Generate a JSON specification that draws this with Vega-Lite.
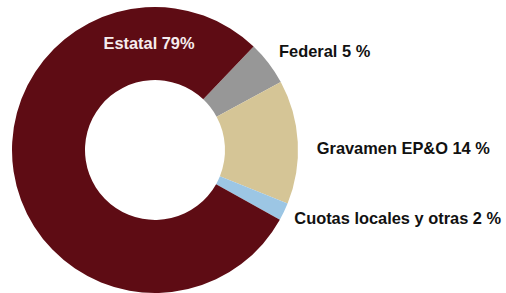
{
  "$schema": "https://vega.github.io/schema/vega-lite/v6.json",
  "width": 310,
  "height": 300,
  "autosize": {"type": "none"},
  "padding": {"left": 0, "top": 0, "right": 196, "bottom": 0},
  "background": "white",
  "view": {"stroke": null},
  "data": {
    "values": [
      {"orden": 1, "nombre": "Federal", "valor": 5, "etiqueta": "Federal 5 %"},
      {"orden": 2, "nombre": "Gravamen", "valor": 14, "etiqueta": "Gravamen EP&O 14 %"},
      {"orden": 3, "nombre": "Cuotas", "valor": 2, "etiqueta": "Cuotas locales y otras 2 %"},
      {"orden": 4, "nombre": "Estatal", "valor": 79, "etiqueta": "Estatal 79%"}
    ]
  },
  "encoding": {
    "theta": {"field": "valor", "type": "quantitative", "stack": true, "scale": {"range": [0.761, 7.044]}},
    "order": {"field": "orden", "type": "ordinal"}
  },
  "layer": [
    {
      "mark": {"type": "arc", "outerRadius": 143, "innerRadius": 70},
      "encoding": {
        "color": {
          "field": "nombre",
          "type": "nominal",
          "scale": {"domain": ["Federal", "Gravamen", "Cuotas", "Estatal"], "range": ["#979797", "#d5c596", "#9cc6e4", "#5e0c14"]},
          "legend": null
        }
      }
    },
    {
      "mark": {"type": "text", "radius": 160, "align": "left", "baseline": "middle", "font": "Liberation Sans", "fontWeight": "bold", "fontSize": 16.4, "dx": -3, "dy": -1, "color": "#111111"},
      "encoding": {"text": {"condition": {"test": "datum.nombre === 'Federal'", "field": "etiqueta"}, "value": ""}}
    },
    {
      "mark": {"type": "text", "radius": 160, "align": "left", "baseline": "middle", "font": "Liberation Sans", "fontWeight": "bold", "fontSize": 16.4, "dx": 2, "dy": 8, "color": "#111111"},
      "encoding": {"text": {"condition": {"test": "datum.nombre === 'Gravamen'", "field": "etiqueta"}, "value": ""}}
    },
    {
      "mark": {"type": "text", "radius": 160, "align": "left", "baseline": "middle", "font": "Liberation Sans", "fontWeight": "bold", "fontSize": 16.4, "dx": -5, "dy": 0, "color": "#111111"},
      "encoding": {"text": {"condition": {"test": "datum.nombre === 'Cuotas'", "field": "etiqueta"}, "value": ""}}
    },
    {
      "mark": {"type": "text", "radius": 0, "align": "center", "baseline": "middle", "font": "Liberation Sans", "fontWeight": "bold", "fontSize": 16.4, "dx": -6, "dy": -106, "color": "#f6ecee"},
      "encoding": {"text": {"condition": {"test": "datum.nombre === 'Estatal'", "field": "etiqueta"}, "value": ""}}
    }
  ]
}
